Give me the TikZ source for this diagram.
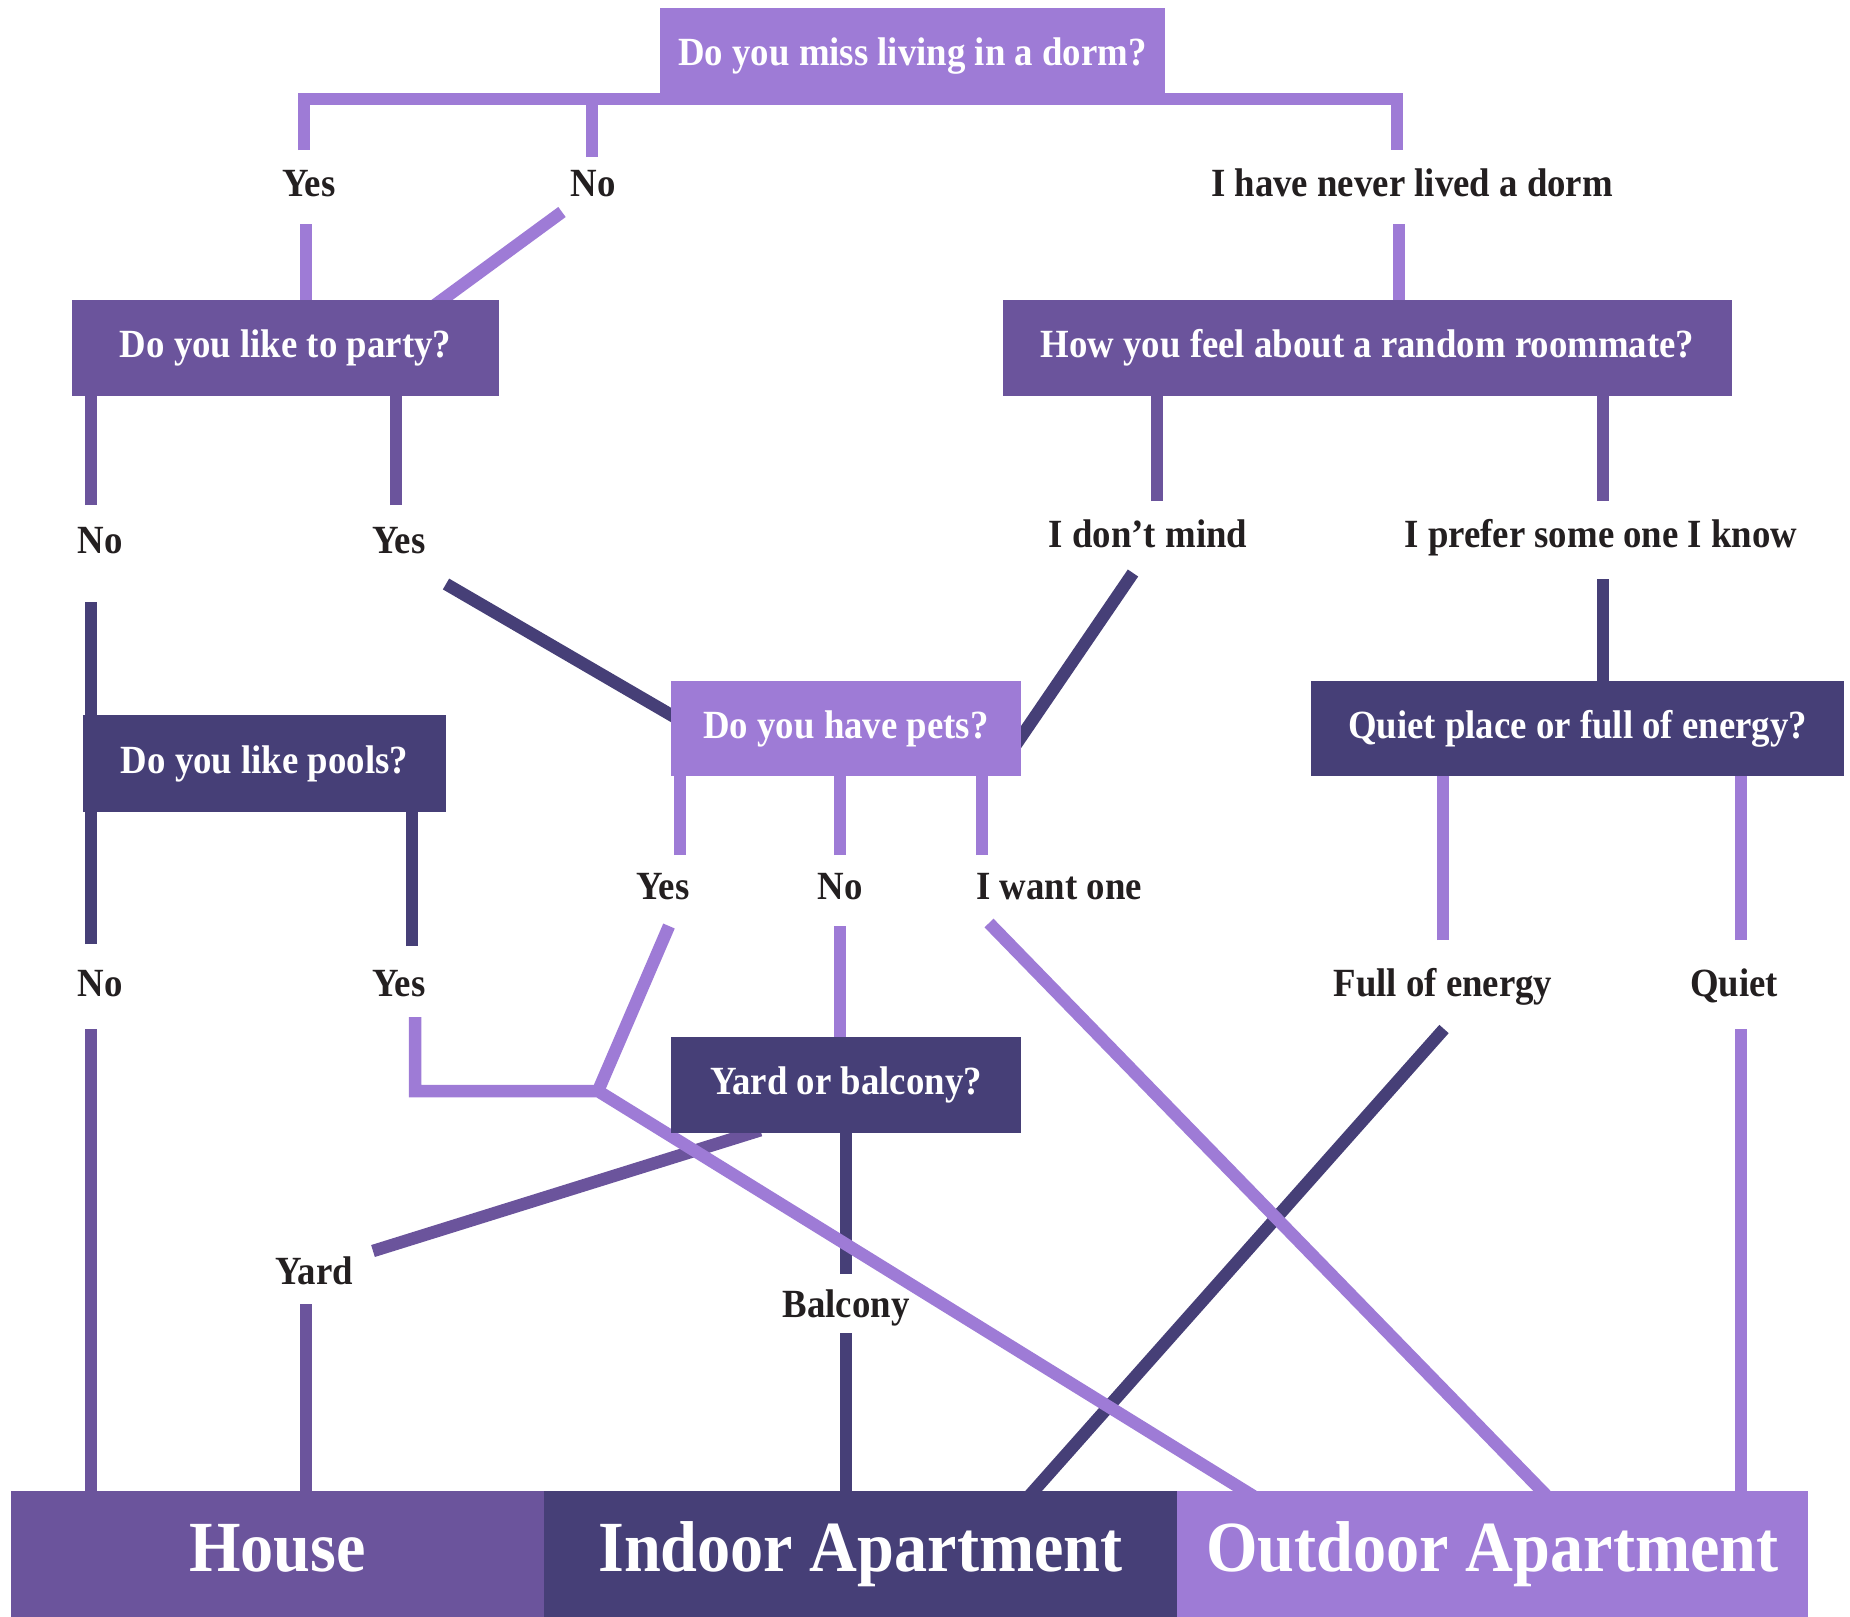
\documentclass[tikz,border=0pt]{standalone}
\usepackage{fontspec}
\setmainfont[FakeStretch=0.92]{Liberation Serif}
\definecolor{lightp}{HTML}{9E7BD6}
\definecolor{midp}{HTML}{6B549C}
\definecolor{darkp}{HTML}{463F77}
\definecolor{ink}{HTML}{231F20}
\newcommand{\myqfont}{\bfseries\fontsize{40}{44}\selectfont}
\newcommand{\mybigfont}{\bfseries\fontsize{72}{80}\selectfont}
\pgfdeclarelayer{bg}
\pgfsetlayers{bg,main}
\begin{document}
\begin{tikzpicture}[x=1pt,y=-1pt,
  box/.style={rectangle, inner sep=0pt, text=white, font=\myqfont},
  endbox/.style={rectangle, inner sep=0pt, text=white, font=\mybigfont, text height=50pt, text depth=16pt, minimum height=126, anchor=center},
  lab/.style={anchor=base, text=ink, font=\myqfont, inner sep=0pt},
  conn/.style={line width=12.5pt},
  L/.style={conn, draw=lightp},
  M/.style={conn, draw=midp},
  D/.style={conn, draw=darkp},
  intobox/.style={shorten >=-10pt}]
\useasboundingbox (0,0) rectangle (1850,1617);

% question boxes
\node[box, fill=lightp, minimum width=505, minimum height=97] (q1) at (912.5,56.5) {Do you miss living in a dorm?};
\node[box, fill=midp, minimum width=427, minimum height=96] (q2) at (285.5,348) {Do you like to party?};
\node[box, fill=midp, minimum width=729, minimum height=96] (q3) at (1367.5,348) {How you feel about a random roommate?};
\node[box, fill=lightp, minimum width=350, minimum height=95] (q4) at (846,728.5) {Do you have pets?};
\node[box, fill=darkp, minimum width=533, minimum height=95] (q5) at (1577.5,728.5) {Quiet place or full of energy?};
\node[box, fill=darkp, minimum width=363, minimum height=97] (q6) at (264.5,763.5) {Do you like pools?};
\node[box, fill=darkp, minimum width=350, minimum height=96] (q7) at (846,1085) {Yard or balcony?};

% outcome boxes
\node[endbox, fill=midp, minimum width=533] (house) at (277.5,1554) {House};
\node[endbox, fill=darkp, minimum width=633] (indoor) at (860.5,1554) {Indoor Apartment};
\node[endbox, fill=lightp, minimum width=631] (outdoor) at (1492.5,1554) {Outdoor Apartment};

% answer labels
\node[lab] (yes1) at (309,196) {Yes};
\node[lab] (no1) at (593,196) {No};
\node[lab] (never) at (1412,196) {I have never lived a dorm};
\node[lab] (no2) at (100,553) {No};
\node[lab] (yes2) at (399,553) {Yes};
\node[lab] (dont) at (1148,547) {I don’t mind};
\node[lab] (prefer) at (1601,547) {I prefer some one I know};
\node[lab] (yes4) at (663,899) {Yes};
\node[lab] (no4) at (840,899) {No};
\node[lab] (want) at (1059,899) {I want one};
\node[lab] (no3) at (100,996) {No};
\node[lab] (yes3) at (399,996) {Yes};
\node[lab] (full) at (1443,996) {Full of energy};
\node[lab] (quiet) at (1734,996) {Quiet};
\node[lab] (yard) at (314,1284) {Yard};
\node[lab] (balc) at (846,1317) {Balcony};

% free ends of connectors
\coordinate (yes1u) at (304,150);
\coordinate (neveru) at (1397,150);
\coordinate (q1bar) at (912,99);
\coordinate (no1u) at (592,157);
\coordinate (yes1d) at (306,224);
\coordinate (no1d) at (562,212);
\coordinate (neverd) at (1399,224);
\coordinate (yes4u) at (680,855);
\coordinate (no4u) at (840,855);
\coordinate (wantu) at (982,855);
\coordinate (no4d) at (840,926);
\coordinate (yes4d) at (669,926);
\coordinate (J) at (598,1091);
\coordinate (yes3d) at (415,1017);
\coordinate (wantd) at (989,923);
\coordinate (fullu) at (1443,940);
\coordinate (quietu) at (1741,940);
\coordinate (quietd) at (1741,1029);
\coordinate (no2u) at (91,505);
\coordinate (yes2u) at (396,505);
\coordinate (dontu) at (1157,501);
\coordinate (preferu) at (1603,501);
\coordinate (yardu) at (373,1251);
\coordinate (yardd) at (306,1304);
\coordinate (no3d) at (91,1029);
\coordinate (yes2d) at (446,584);
\coordinate (dontd) at (1133,573);
\coordinate (preferd) at (1603,579);
\coordinate (no2d) at (91,602);
\coordinate (no3u) at (91,944);
\coordinate (yes3u) at (412,946);
\coordinate (balcu) at (846,1274);
\coordinate (balcd) at (846,1333);
\coordinate (fulld) at (1444,1029);

\begin{pgfonlayer}{bg}
% dark connectors
\draw[D, intobox] (yes2d) -- ([yshift=-34pt]q4.north west);
\draw[D, intobox] (dontd) -- ([yshift=-56pt]q4.north east);
\draw[D] (preferd) -- (preferd |- q5.north);
\draw[D] (no2d) -- (no2d |- q6.north);
\draw[D] (no3u) -- (no3u |- q6.south);
\draw[D] (yes3u) -- (yes3u |- q6.south);
\draw[D] (balcu) -- (balcu |- q7.south);
\draw[D] (balcd) -- (balcd |- indoor.north);
\draw[D, intobox] (fulld) -- ([xshift=490pt]indoor.north west);
% medium connectors
\draw[M] (no2u) -- (no2u |- q2.south);
\draw[M] (yes2u) -- (yes2u |- q2.south);
\draw[M] (dontu) -- (dontu |- q3.south);
\draw[M] (preferu) -- (preferu |- q3.south);
\draw[M, intobox] (yardu) -- ([xshift=80pt]q7.south west);
\draw[M] (yardd) -- (yardd |- house.north);
\draw[M] (no3d) -- (no3d |- house.north);
% light connectors
\draw[L] (yes1u) |- (q1bar) -| (neveru);
\draw[L] (no1u) -- (no1u |- q1bar);
\draw[L] (yes1d) -- (yes1d |- q2.north);
\draw[L, intobox] (no1d) -- ([xshift=-57pt]q2.north east);
\draw[L] (neverd) -- (neverd |- q3.north);
\draw[L] (yes4u) -- (yes4u |- q4.south);
\draw[L] (no4u) -- (no4u |- q4.south);
\draw[L] (wantu) -- (wantu |- q4.south);
\draw[L] (no4d) -- (no4d |- q7.north);
\draw[L] (yes4d) -- (J);
\draw[L, intobox] (yes3d) |- (J) -- ([xshift=68pt]outdoor.north west);
\draw[L, intobox] (wantd) -- ([xshift=365pt]outdoor.north west);
\draw[L] (fullu) -- (fullu |- q5.south);
\draw[L] (quietu) -- (quietu |- q5.south);
\draw[L] (quietd) -- (quietd |- outdoor.north);
\end{pgfonlayer}
\end{tikzpicture}
\end{document}
